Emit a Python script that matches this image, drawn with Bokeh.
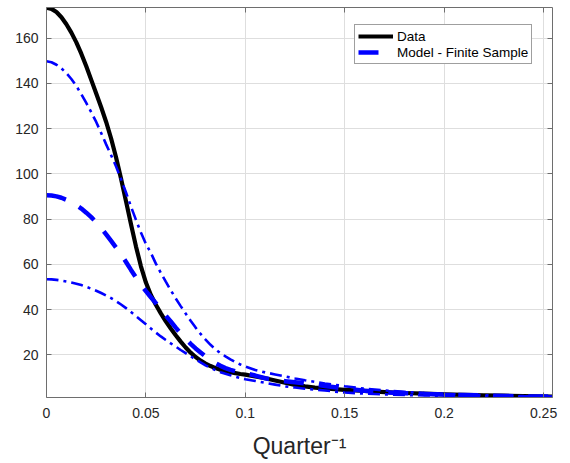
from bokeh.plotting import figure
from bokeh.models import Range1d, FixedTicker, LinearAxis, Legend, LegendItem
from bokeh.embed import file_html
from bokeh.resources import INLINE

# ---- data ----
freq = [0, 0.0025, 0.005, 0.0075, 0.01, 0.0125, 0.015, 0.0175, 0.02, 0.0225,
        0.025, 0.0275, 0.03, 0.0325, 0.035, 0.0375, 0.04, 0.0425, 0.045, 0.0475,
        0.05, 0.0525, 0.055, 0.0575, 0.06, 0.0625, 0.065, 0.0675, 0.07, 0.0725,
        0.075, 0.0775, 0.08, 0.0825, 0.085, 0.0875, 0.09, 0.0925, 0.095, 0.0975,
        0.1, 0.105, 0.11, 0.115, 0.12, 0.125, 0.13, 0.135, 0.14, 0.145,
        0.15, 0.16, 0.17, 0.18, 0.19, 0.2, 0.21, 0.22, 0.23, 0.24, 0.2545]
data = [173.4, 172.9, 171.5, 169.2, 166.1, 162.4, 158.1, 153.1, 147.5, 141.5,
        135.5, 129.4, 122.9, 115.6, 107.2, 97.8, 87.8, 77.7, 67.9, 59.1,
        51.9, 46.4, 42.1, 38.3, 34.8, 31.6, 28.6, 25.8, 23.2, 20.9,
        19.0, 17.4, 16.1, 15.0, 14.1, 13.4, 12.8, 12.3, 11.9, 11.5,
        11.2, 10.4, 9.6, 8.6, 7.6, 6.7, 6.0, 5.5, 5.1, 4.8,
        4.5, 4.0, 3.5, 3.1, 2.8, 2.5, 2.3, 2.1, 1.9, 1.7, 1.5]
model = [90.5, 90.4, 90.0, 89.4, 88.5, 87.4, 86.1, 84.6, 82.8, 80.8,
         78.6, 76.0, 73.2, 70.3, 67.4, 64.3, 61.0, 57.5, 54.2, 51.0,
         48.1, 45.4, 42.8, 40.0, 37.3, 34.7, 32.0, 29.4, 27.0, 24.8,
         22.8, 21.0, 19.3, 17.7, 16.3, 15.1, 14.1, 13.3, 12.7, 12.2,
         11.8, 10.8, 9.6, 8.8, 8.3, 7.8, 7.3, 6.8, 6.2, 5.6,
         5.0, 4.1, 3.4, 3.0, 2.7, 2.4, 2.2, 2.0, 1.8, 1.6, 1.5]
upper = [149.7, 149.3, 148.2, 146.6, 144.5, 141.9, 138.8, 135.2, 131.3, 127.2,
         122.9, 118.0, 113.0, 108.2, 103.2, 97.6, 91.7, 85.5, 79.6, 74.0,
         69.0, 65.0, 60.3, 56.2, 52.3, 48.5, 44.9, 41.5, 38.2, 35.0,
         32.0, 29.2, 26.7, 24.4, 22.4, 20.7, 19.3, 18.0, 16.8, 15.7,
         14.8, 13.3, 12.2, 11.3, 10.4, 9.5, 8.7, 8.0, 7.3, 6.7,
         6.1, 5.0, 4.2, 3.6, 3.1, 2.7, 2.4, 2.1, 1.9, 1.7, 1.5]
lower = [53.4, 53.3, 53.1, 52.8, 52.4, 51.9, 51.4, 50.8, 50.0, 49.2,
         48.3, 47.3, 46.2, 45.0, 43.7, 42.2, 40.6, 38.9, 37.1, 35.3,
         33.5, 31.6, 29.8, 28.1, 26.5, 25.0, 23.6, 22.1, 20.7, 19.3,
         18.0, 16.6, 15.3, 14.2, 13.2, 12.3, 11.6, 10.9, 10.3, 9.7,
         9.2, 8.4, 7.6, 6.8, 6.0, 5.5, 5.0, 4.6, 4.2, 3.7,
         3.3, 2.8, 2.5, 2.2, 2.0, 1.9, 1.8, 1.7, 1.6, 1.5, 1.4]

x_ticks = [0, 0.05, 0.1, 0.15, 0.2, 0.25]
x_tick_labels = ["0", "0.05", "0.1", "0.15", "0.2", "0.25"]
y_ticks = [20, 40, 60, 80, 100, 120, 140, 160]
x_label = "Quarter\u207b\u00b9"
legend_labels = ["Data", "Model - Finite Sample"]

FONT = "Liberation Sans"
AX = "#6e6e6e"
TXT = "#262626"

p = figure(width=570, height=463, output_backend="svg", toolbar_location=None,
           x_range=Range1d(0, 0.2545), y_range=Range1d(1.1, 173.5),
           min_border_left=46, min_border_right=18, min_border_top=7,
           min_border_bottom=66, background_fill_color="white",
           border_fill_color="white")
p.outline_line_color = None

r_data = p.line(freq, data, line_color="black", line_width=4.2, line_join="round")
r_model = p.line(freq, model, line_color="#0000ff", line_width=4.5, line_dash="20 15")
r_up = p.line(freq, upper, line_color="#0000ff", line_width=2.6, line_dash="12 5 3 5")
r_lo = p.line(freq, lower, line_color="#0000ff", line_width=2.6, line_dash="12 5 3 5")

bottom = p.below[0]
left = p.left[0]
top = LinearAxis()
right = LinearAxis()
p.add_layout(top, "above")
p.add_layout(right, "right")

for ax in [bottom, top]:
    ax.ticker = FixedTicker(ticks=x_ticks)
for ax in [left, right]:
    ax.ticker = FixedTicker(ticks=y_ticks)

bottom.major_label_overrides = {t: s for t, s in zip(x_ticks, x_tick_labels)}

for ax in [bottom, left, top, right]:
    ax.axis_line_color = AX
    ax.axis_line_width = 1
    ax.major_tick_line_color = AX
    ax.major_tick_in = 5
    ax.major_tick_out = 0
    ax.minor_tick_line_color = None
    ax.major_label_text_font = FONT
    ax.major_label_text_font_size = "14px"
    ax.major_label_text_color = TXT
for ax in [top, right]:
    ax.major_label_text_color = None
    ax.major_label_standoff = 0
    ax.axis_label = None
bottom.major_label_standoff = 10
left.major_label_standoff = 8

bottom.axis_label = x_label
bottom.axis_label_text_font = FONT
bottom.axis_label_text_font_size = "23px"
bottom.axis_label_text_font_style = "normal"
bottom.axis_label_text_color = TXT
bottom.axis_label_standoff = 12

p.xgrid.ticker = FixedTicker(ticks=x_ticks)
p.ygrid.ticker = FixedTicker(ticks=y_ticks)
p.grid.grid_line_color = "#dedede"
p.grid.grid_line_width = 1

legend = Legend(items=[LegendItem(label=legend_labels[0], renderers=[r_data]),
                       LegendItem(label=legend_labels[1], renderers=[r_model])],
                location=(308, 333))
legend.label_text_font = FONT
legend.label_text_font_size = "13.5px"
legend.label_text_color = "black"
legend.glyph_width = 35
legend.glyph_height = 16
legend.label_height = 16
legend.label_standoff = 4
legend.spacing = 0
legend.padding = 3
legend.margin = 0
legend.border_line_color = "#404040"
legend.border_line_width = 1
legend.background_fill_color = "white"
legend.background_fill_alpha = 1
p.add_layout(legend)

open("out.html", "w").write(file_html(p, INLINE))
